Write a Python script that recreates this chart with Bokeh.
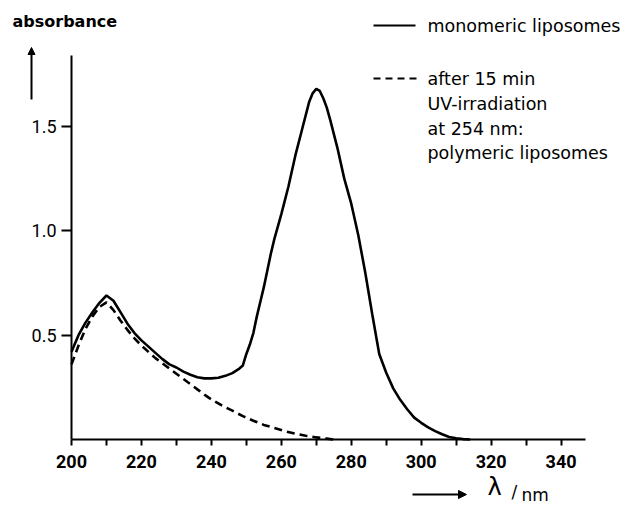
from bokeh.plotting import figure
from bokeh.models import (FixedTicker, Label, Arrow, NormalHead, Range1d,
                          PrintfTickFormatter)
from bokeh.embed import file_html
from bokeh.resources import INLINE

# ---------------- data ----------------
wavelength_mono = [200, 202, 204, 206, 208, 210, 212, 214, 216, 218, 220, 222, 224, 226,
                   228, 230, 232, 234, 236, 238, 240, 242, 244, 246, 248, 249, 250, 251,
                   252, 253, 254, 255, 256, 257, 258, 260, 262, 264, 266, 268, 269, 270,
                   271, 272, 273, 274, 276, 278, 280, 282, 284, 286, 288, 290, 292, 294,
                   296, 298, 300, 302, 304, 306, 308, 310, 312, 314]
absorbance_mono = [0.42, 0.50, 0.56, 0.61, 0.655, 0.69, 0.665, 0.61, 0.555, 0.51, 0.475,
                   0.445, 0.415, 0.385, 0.36, 0.345, 0.325, 0.31, 0.298, 0.293, 0.293,
                   0.296, 0.305, 0.318, 0.34, 0.355, 0.41, 0.455, 0.51, 0.59, 0.66, 0.73,
                   0.81, 0.89, 0.96, 1.08, 1.21, 1.36, 1.49, 1.62, 1.66, 1.68, 1.67, 1.635,
                   1.59, 1.53, 1.40, 1.25, 1.13, 0.98, 0.80, 0.60, 0.41, 0.32, 0.245, 0.19,
                   0.145, 0.105, 0.08, 0.058, 0.04, 0.025, 0.012, 0.006, 0.002, 0.0]

wavelength_poly = [200, 202, 204, 206, 208, 210, 212, 214, 216, 218, 220, 222, 224, 226,
                   228, 230, 232, 234, 236, 238, 240, 243, 246, 249, 252, 255, 258, 261,
                   264, 267, 270, 273, 275]
absorbance_poly = [0.36, 0.45, 0.53, 0.59, 0.635, 0.657, 0.62, 0.57, 0.525, 0.485, 0.45,
                   0.42, 0.39, 0.365, 0.34, 0.315, 0.29, 0.265, 0.24, 0.215, 0.192, 0.163,
                   0.138, 0.112, 0.09, 0.07, 0.055, 0.04, 0.028, 0.018, 0.01, 0.004, 0.0]

x_major_ticks = [200, 220, 240, 260, 280, 300, 320, 340]
x_minor_ticks = [210, 230, 250, 270, 290, 310, 330]
y_ticks = [0.5, 1.0, 1.5]
x_axis_extent = (200, 347)
y_axis_extent = (0, 1.84)

legend_mono = "monomeric liposomes"
legend_poly = ["after  15 min", "UV-irradiation", "at 254 nm:", "polymeric liposomes"]
y_title = "absorbance"

# ---------------- layout ----------------
W, H = 625, 503
FL, FB = 71, 439            # canvas px of the axes corner
SX = 3.497                  # px per nm
SY = 208.7                  # px per absorbance unit

def X(px):  # canvas px -> data x (for annotations / ranges)
    return 200 + (px - FL) / SX

def Y(py):  # canvas px -> data y
    return (FB - py) / SY

p = figure(width=W, height=H, output_backend="svg", toolbar_location=None,
           x_range=Range1d(X(0), X(W)), y_range=Range1d(Y(H), Y(0)),
           min_border=0, min_border_left=0, min_border_right=0,
           min_border_top=0, min_border_bottom=0)
p.title.visible = False
p.outline_line_color = None
p.xgrid.visible = False
p.ygrid.visible = False
p.background_fill_color = "white"
p.border_fill_color = "white"

p.line(wavelength_mono, absorbance_mono, line_color="black", line_width=2.6)
p.line(wavelength_poly, absorbance_poly, line_color="black", line_width=2.6,
       line_dash="8 5")

xa = p.xaxis[0]
xa.fixed_location = 0
xa.bounds = x_axis_extent
xa.ticker = FixedTicker(ticks=x_major_ticks, minor_ticks=x_minor_ticks)
xa.axis_line_width = 2
xa.major_tick_line_width = 2
xa.minor_tick_line_width = 2
xa.major_tick_in = 0
xa.major_tick_out = 6
xa.minor_tick_in = 0
xa.minor_tick_out = 6
xa.major_label_standoff = 9
xa.major_label_text_font = "Roboto"
xa.major_label_text_font_style = "bold"
xa.major_label_text_font_size = "18px"
xa.major_label_text_color = "black"

ya = p.yaxis[0]
ya.fixed_location = 200
ya.bounds = y_axis_extent
ya.ticker = FixedTicker(ticks=y_ticks, minor_ticks=[])
ya.formatter = PrintfTickFormatter(format="%.1f")
ya.axis_line_width = 2
ya.major_tick_line_width = 2
ya.major_tick_in = 0
ya.major_tick_out = 10
ya.minor_tick_in = 0
ya.minor_tick_out = 0
ya.major_label_standoff = 5
ya.major_label_text_font = "Roboto"
ya.major_label_text_font_size = "18px"
ya.major_label_text_color = "black"

TXT = dict(text_font="DejaVu Sans", text_baseline="middle", text_align="left",
           text_color="black")

# y title and arrow
p.add_layout(Label(x=X(12), y=Y(21), text=y_title, text_font_style="bold",
                   text_font_size="16px", **TXT))
p.add_layout(Arrow(x_start=X(31), y_start=Y(99), x_end=X(31), y_end=Y(47),
                   line_width=2, line_color="black",
                   end=NormalHead(size=7, fill_color="black", line_color="black")))

# x title and arrow
p.add_layout(Arrow(x_start=X(412), y_start=Y(494), x_end=X(466), y_end=Y(494),
                   line_width=2, line_color="black",
                   end=NormalHead(size=8, fill_color="black", line_color="black")))
p.add_layout(Label(x=X(487), y=Y(486), text="λ", text_font_size="24px", **TXT))
p.add_layout(Label(x=X(511), y=Y(491), text="/", text_font_size="17px", **TXT))
p.add_layout(Label(x=X(521), y=Y(494), text="nm", text_font_size="17px", **TXT))

# legend drawn by hand
p.add_layout(Arrow(x_start=X(373), y_start=Y(25), x_end=X(415), y_end=Y(25),
                   line_width=2, line_color="black", end=None))
p.add_layout(Arrow(x_start=X(373), y_start=Y(78), x_end=X(416), y_end=Y(78),
                   line_width=2, line_color="black", line_dash="7 5", end=None))
p.add_layout(Label(x=X(427), y=Y(25), text=legend_mono, text_font_size="17.5px", **TXT))
for txt, yy in zip(legend_poly, [78, 103, 128, 152]):
    p.add_layout(Label(x=X(427), y=Y(yy), text=txt, text_font_size="17.5px", **TXT))

open("out.html", "w").write(file_html(p, INLINE))
